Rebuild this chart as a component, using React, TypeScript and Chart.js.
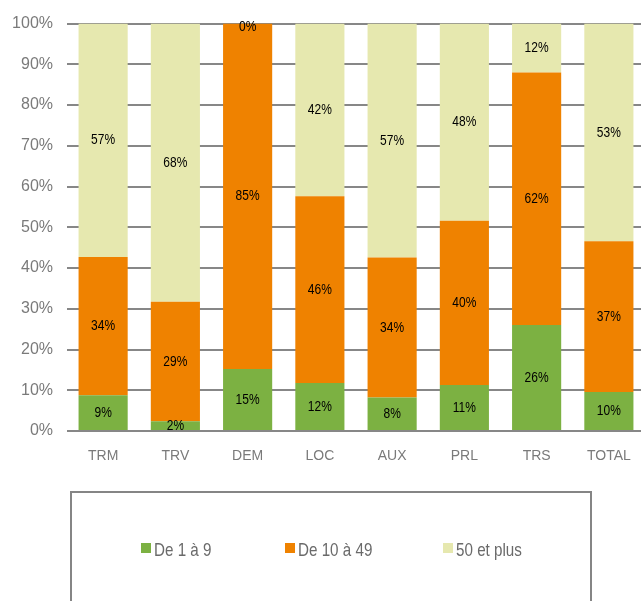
import React, { useEffect, useRef } from "react";
import { Chart, registerables } from "chart.js";

Chart.register(...registerables);

const categories = ["TRM", "TRV", "DEM", "LOC", "AUX", "PRL", "TRS", "TOTAL"];
const small = [8.8, 2.4, 15.2, 11.8, 8.2, 11.3, 26.0, 9.6];
const medium = [33.9, 29.3, 84.8, 45.8, 34.4, 40.3, 62.0, 37.0];
const large = [57.3, 68.3, 0, 42.4, 57.4, 48.4, 12.0, 53.4];
const seriesNames = ["De 1 à 9", "De 10 à 49", "50 et plus"];
const seriesColors = ["#7CB142", "#EF8200", "#E6E8AF"];
const yTicks = [0, 10, 20, 30, 40, 50, 60, 70, 80, 90, 100];

const FONT = "'Liberation Sans', Arial, sans-serif";
const NARROW = 0.8;

const valueLabels = {
  id: "valueLabels",
  afterDatasetsDraw(chart: any) {
    const ctx = chart.ctx;
    ctx.save();
    ctx.font = `15px ${FONT}`;
    ctx.fillStyle = "#000";
    ctx.textAlign = "center";
    ctx.textBaseline = "middle";
    chart.data.datasets.forEach((ds: any, i: number) => {
      const meta = chart.getDatasetMeta(i);
      meta.data.forEach((bar: any, j: number) => {
        const v = ds.data[j];
        const top = Math.min(bar.y, bar.base);
        const bot = Math.max(bar.y, bar.base);
        let y = (top + bot) / 2;
        if (bot - top < 6) y = top + 3;
        ctx.save();
        ctx.translate(bar.x, y);
        ctx.scale(NARROW, 1);
        ctx.fillText(`${Math.round(v)}%`, 0, 0);
        ctx.restore();
      });
    });
    ctx.restore();
  },
};

const legendBox = {
  id: "legendBox",
  afterDraw(chart: any) {
    const ctx = chart.ctx;
    ctx.save();
    ctx.strokeStyle = "#858585";
    ctx.lineWidth = 2;
    ctx.strokeRect(71, 492, 520, 130);
    const xs = [141, 285, 443];
    ctx.font = `19px ${FONT}`;
    ctx.textBaseline = "middle";
    ctx.textAlign = "left";
    seriesNames.forEach((name, i) => {
      ctx.fillStyle = seriesColors[i];
      ctx.fillRect(xs[i], 543, 10, 10);
      ctx.fillStyle = "#6a6a6a";
      ctx.save();
      ctx.translate(xs[i] + 13, 551);
      ctx.scale(NARROW, 1);
      ctx.fillText(name, 0, 0);
      ctx.restore();
    });
    ctx.restore();
  },
};

export default function App() {
  const ref = useRef<HTMLCanvasElement>(null);
  useEffect(() => {
    const canvas = ref.current!;
    const chart = new Chart(canvas, {
      type: "bar",
      data: {
        labels: categories,
        datasets: [small, medium, large].map((d, i) => ({
          label: seriesNames[i],
          data: d,
          backgroundColor: seriesColors[i],
          borderWidth: 0,
          barPercentage: 0.68,
          categoryPercentage: 1,
        })),
      },
      options: {
        animation: false,
        responsive: false,
        devicePixelRatio: 1,
        layout: { padding: { top: 23, right: 20, bottom: 0, left: 0 } },
        plugins: { legend: { display: false }, tooltip: { enabled: false } },
        scales: {
          x: {
            stacked: true,
            grid: { display: false, drawTicks: false },
            border: { display: false },
            ticks: {
              color: "#7a7a7a",
              font: { family: FONT, size: 14 },
              padding: 17,
            },
            afterFit: (s: any) => {
              s.height = 170;
            },
          },
          y: {
            stacked: true,
            min: 0,
            max: 100,
            afterBuildTicks: (s: any) => {
              s.ticks = yTicks.map((v) => ({ value: v }));
            },
            grid: { color: "#878787", lineWidth: 2, drawTicks: false },
            border: { display: false },
            ticks: {
              color: "#7a7a7a",
              font: { family: FONT, size: 16 },
              padding: 14,
              callback: (v: any) => `${v}%`,
            },
            afterFit: (s: any) => {
              s.width = 67;
            },
          },
        },
      },
      plugins: [valueLabels, legendBox],
    });
    return () => chart.destroy();
  }, []);
  return (
    <div style={{ position: "absolute", left: 0, top: 0, width: 641, height: 601, overflow: "hidden", background: "#fff" }}>
      <canvas ref={ref} width={665} height={601} style={{ display: "block" }} />
    </div>
  );
}
